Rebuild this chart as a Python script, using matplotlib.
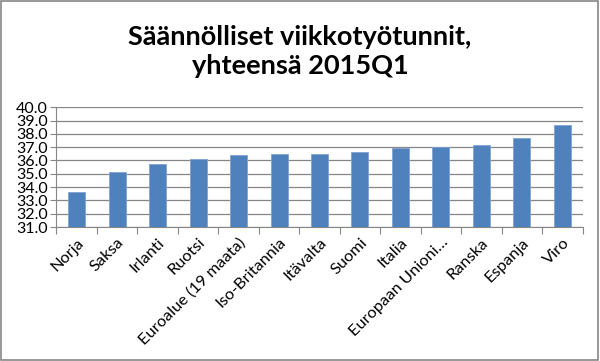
import matplotlib.pyplot as plt
from matplotlib.patches import Rectangle

# Maat ja säännölliset viikkotyötunnit
maat = ["Norja", "Saksa", "Irlanti", "Ruotsi", "Euroalue (19 maata)", "Iso-Britannia",
        "Itävalta", "Suomi", "Italia", "Europaan Unioni…", "Ranska", "Espanja", "Viro"]
tunnit = [33.6, 35.1, 35.7, 36.1, 36.4, 36.5, 36.5, 36.6, 36.9, 37.0, 37.2, 37.7, 38.7]
y_tikit = [31.0, 32.0, 33.0, 34.0, 35.0, 36.0, 37.0, 38.0, 39.0, 40.0]

plt.rcParams['font.family'] = ['Lato', 'DejaVu Sans']

fig = plt.figure(figsize=(6, 3.61), dpi=100)
ax = fig.add_axes([0.094, 0.371, 0.877, 0.332])

x = list(range(len(maat)))
ax.bar(x, tunnit, width=0.42, bottom=0, color='#4f81bd', edgecolor='#7ea3d4',
       linewidth=0.6, zorder=3)

ax.set_ylim(31, 40)
ax.set_xlim(-0.5, len(maat) - 0.5)
ax.set_yticks(y_tikit)
ax.set_yticklabels(["%.1f" % v for v in y_tikit], fontsize=11.5)
ax.yaxis.grid(True, color='#868686', linewidth=0.9, zorder=0)

# Väkäset kategorioiden väliin, nimet keskelle
ax.set_xticks([i - 0.5 for i in range(len(maat) + 1)], minor=False)
ax.set_xticklabels([])
ax.set_xticks(x, minor=True)
ax.set_xticklabels(maat, minor=True, rotation=45, ha='right', va='top',
                   rotation_mode='anchor', fontsize=11.8)
ax.tick_params(axis='x', which='major', length=5, color='#868686')
ax.tick_params(axis='x', which='minor', length=0, pad=6)
ax.tick_params(axis='y', length=4, color='#868686', pad=2)

for s in ['top', 'right']:
    ax.spines[s].set_visible(False)
ax.spines['left'].set_color('#868686')
ax.spines['bottom'].set_color('#868686')

fig.text(0.5, 0.93, "Säännölliset viikkotyötunnit,\nyhteensä 2015Q1", ha='center', va='top',
         fontsize=19.5, fontweight='bold', linespacing=1.25)

# Kaavion reunus
fig.patches.append(Rectangle((0.002, 0.003), 0.995, 0.994, transform=fig.transFigure,
                             fill=False, edgecolor='#868686', linewidth=1.2))

fig.savefig("out.png", dpi=100)
